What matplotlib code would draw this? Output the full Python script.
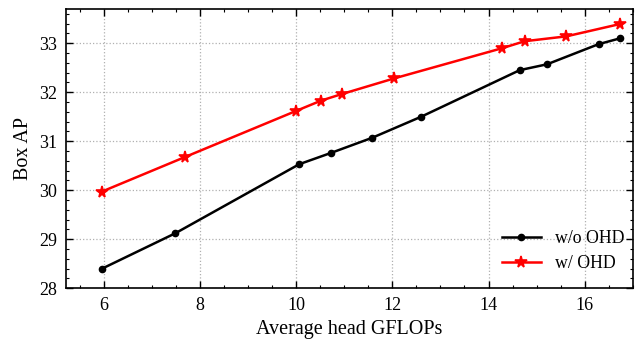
import matplotlib
matplotlib.use("Agg")
import matplotlib.pyplot as plt
from matplotlib.ticker import MultipleLocator

# average head GFLOPs vs Box AP
flops_wo = [5.96, 7.48, 10.06, 10.72, 11.58, 12.6, 14.65, 15.22, 16.29, 16.74]
ap_wo = [28.40, 29.12, 30.53, 30.76, 31.07, 31.50, 32.45, 32.57, 32.98, 33.10]

flops_w = [5.95, 7.69, 10.0, 10.52, 10.94, 12.03, 14.29, 14.75, 15.62, 16.73]
ap_w = [29.97, 30.68, 31.62, 31.83, 31.96, 32.28, 32.90, 33.04, 33.14, 33.39]

labels = ["w/o OHD", "w/ OHD"]

plt.rcParams['font.family'] = ['Liberation Serif', 'DejaVu Serif']
plt.rcParams['mathtext.fontset'] = 'stix'

fig, ax = plt.subplots(figsize=[6.39, 3.43], dpi=100)

ax.plot(flops_wo, ap_wo, color='black', marker='o', markersize=4.5, linewidth=1.8, label=labels[0])
ax.plot(flops_w, ap_w, color='red', marker='*', markersize=8.5, markeredgewidth=1.2,
        linewidth=1.8, label=labels[1])

ax.set_xlim(5.2, 17.0)
ax.set_ylim(28, 33.7)
ax.xaxis.set_major_locator(MultipleLocator(2))
ax.xaxis.set_minor_locator(MultipleLocator(0.5))
ax.yaxis.set_major_locator(MultipleLocator(1))
ax.yaxis.set_minor_locator(MultipleLocator(0.2))

ax.tick_params(which='both', direction='in', top=True, right=True, labelsize=13, pad=6.5)
ax.tick_params(which='major', length=5, width=1)
ax.tick_params(which='minor', length=2.5, width=0.8)
for s in ax.spines.values():
    s.set_linewidth(1.2)

ax.grid(True, which='major', linestyle=':', color='#b0b0b0', linewidth=0.9)

ax.set_xlabel("Average head GFLOPs", fontsize=14.5)
ax.set_ylabel("Box AP", fontsize=14.5)

ax.legend(loc='lower right', bbox_to_anchor=(0.998, 0.033), frameon=False, fontsize=12.8,
          handlelength=2.2, borderaxespad=0, labelspacing=0.45)

fig.subplots_adjust(left=0.103, right=0.99, top=0.974, bottom=0.16)
fig.savefig("out.png", dpi=100)
